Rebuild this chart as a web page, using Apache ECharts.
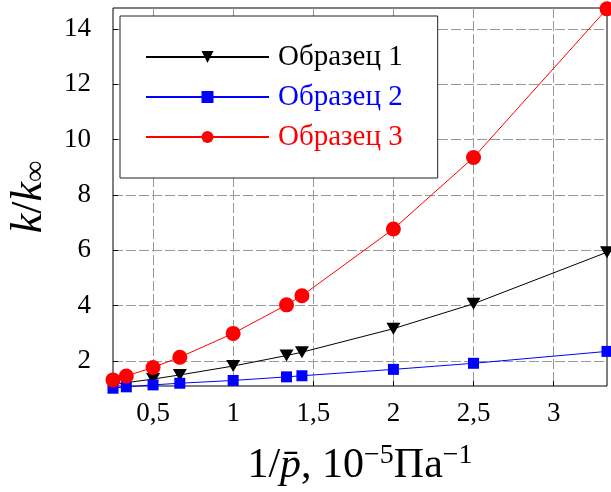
<!DOCTYPE html>
<html>
<head>
<meta charset="utf-8">
<script src="https://cdn.jsdelivr.net/npm/echarts@6/dist/echarts.min.js"></script>
<style>
  html, body { margin: 0; padding: 0; background: #fff; }
  #main { width: 611px; height: 492px; }
</style>
</head>
<body>
<div id="main"></div>
<script>
  // 1/p, 10^-5 Па^-1
  var xValues = [0.25, 0.333, 0.5, 0.667, 1, 1.333, 1.429, 2, 2.5, 3.333];
  // k/k∞
  var sample1 = [1.15, 1.22, 1.35, 1.5, 1.82, 2.2, 2.32, 3.17, 4.07, 5.93];
  var sample2 = [1.02, 1.07, 1.14, 1.2, 1.3, 1.43, 1.47, 1.7, 1.92, 2.35];
  var sample3 = [1.32, 1.46, 1.77, 2.14, 3.0, 4.03, 4.36, 6.77, 9.35, 14.72];
  var seriesNames = ['Образец 1', 'Образец 2', 'Образец 3'];
  var xTicks = [0.5, 1, 1.5, 2, 2.5, 3];
  var yTicks = [2, 4, 6, 8, 10, 12, 14];

  var font = '"Liberation Serif", "DejaVu Serif", serif';

  function pairs(ys) {
    return xValues.map(function (x, i) { return [x, ys[i]]; });
  }

  var myChart = echarts.init(document.getElementById('main'));

  var gridLine = {
    show: true,
    lineStyle: { color: '#999', width: 1, type: [10, 3] }
  };

  myChart.setOption({
    animation: false,
    textStyle: { fontFamily: font },
    grid: {
      left: 113, right: 4, top: 8, bottom: 106,
      outerBoundsMode: 'none',
      containLabel: false,
      show: true, borderColor: '#000', borderWidth: 1, backgroundColor: 'transparent'
    },
    legend: {
      left: 120,
      top: 16,
      orient: 'vertical',
      padding: [26, 35, 26, 25],
      itemGap: 10,
      itemWidth: 123,
      itemHeight: 15,
      backgroundColor: '#fff',
      borderColor: '#222',
      borderWidth: 1,
      textStyle: { fontFamily: font, fontSize: 29, lineHeight: 30, padding: [0, 0, 0, 4] },
      data: [
        { name: seriesNames[0], textStyle: { color: '#000' } },
        { name: seriesNames[1], textStyle: { color: '#0000ff' } },
        { name: seriesNames[2], textStyle: { color: '#ff0000' } }
      ]
    },
    xAxis: {
      type: 'value',
      min: 0.25,
      max: 3.333,
      name: '{n|1/}{i|p̄}{n|, 10}{s|−5}{n|Па}{s|−1}',
      nameLocation: 'middle',
      nameGap: 56,
      nameTextStyle: {
        rich: {
          n: { fontFamily: font, fontSize: 42, color: '#000' },
          i: { fontFamily: font, fontSize: 42, fontStyle: 'italic', color: '#000' },
          s: { fontFamily: font, fontSize: 28, color: '#000', padding: [0, 0, 20, 0] }
        }
      },
      axisLine: { show: false },
      axisTick: { show: true, inside: true, length: 5, customValues: xTicks, lineStyle: { color: '#000' } },
      axisLabel: {
        customValues: xTicks,
        margin: 14,
        fontSize: 27,
        fontFamily: font,
        color: '#000',
        formatter: function (v) { return String(v).replace('.', ','); }
      },
      splitLine: gridLine
    },
    yAxis: {
      type: 'value',
      min: 1.1,
      max: 14.75,
      name: '{i|k}{n|/}{i|k}{s|∞}',
      nameLocation: 'middle',
      nameGap: 62,
      nameRotate: 90,
      nameTextStyle: {
        rich: {
          n: { fontFamily: font, fontSize: 44, color: '#000' },
          i: { fontFamily: font, fontSize: 44, fontStyle: 'italic', color: '#000' },
          s: { fontFamily: font, fontSize: 30, color: '#000', padding: [14, 0, 0, 0] }
        }
      },
      axisLine: { show: false },
      axisTick: { show: true, inside: true, length: 5, customValues: yTicks, lineStyle: { color: '#000' } },
      axisLabel: {
        customValues: yTicks,
        margin: 22,
        fontSize: 27,
        fontFamily: font,
        color: '#000'
      },
      splitLine: gridLine
    },
    series: [{
      name: seriesNames[0],
      type: 'line',
      data: pairs(sample1),
      clip: false,
      symbol: 'triangle',
      symbolRotate: 180,
      symbolSize: [14, 12],
      itemStyle: { color: '#000' },
      lineStyle: { color: '#000', width: 1 }
    }, {
      name: seriesNames[1],
      type: 'line',
      data: pairs(sample2),
      clip: false,
      symbol: 'rect',
      symbolSize: 11,
      itemStyle: { color: '#0000ff' },
      lineStyle: { color: '#0000ff', width: 1 }
    }, {
      name: seriesNames[2],
      type: 'line',
      data: pairs(sample3),
      clip: false,
      symbol: 'circle',
      symbolSize: 15,
      itemStyle: { color: '#ff0000' },
      lineStyle: { color: '#ff0000', width: 1 }
    }]
  });
</script>
</body>
</html>
